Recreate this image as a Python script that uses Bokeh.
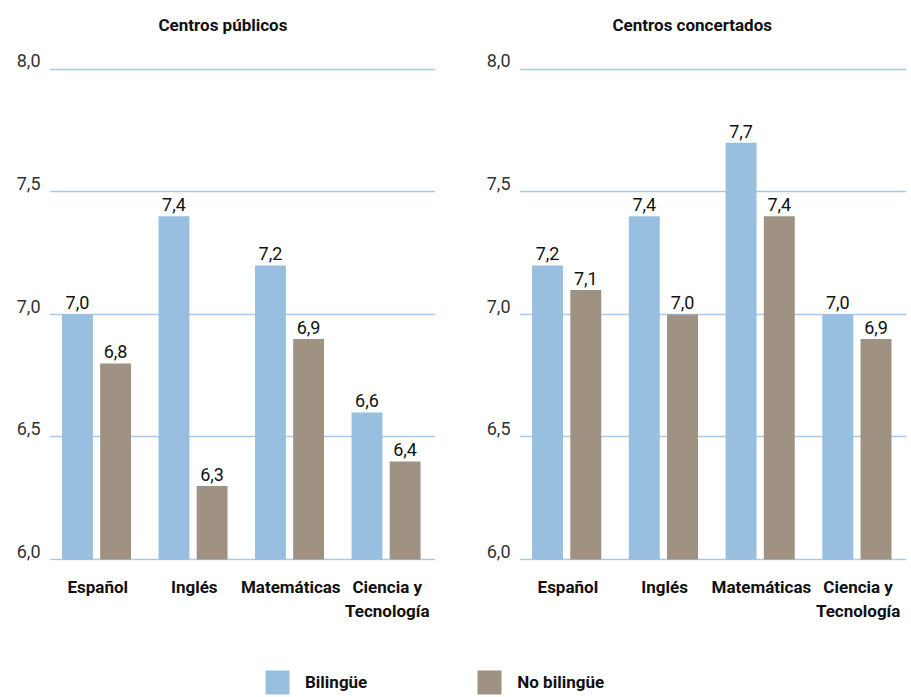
from bokeh.plotting import figure
from bokeh.models import (FactorRange, Range1d, FixedTicker, ColumnDataSource,
                          Legend, LegendItem, Title)
from bokeh.transform import dodge
from bokeh.layouts import row, column
from bokeh.embed import file_html
from bokeh.resources import INLINE
from bokeh.core.properties import value

# ---------------- data ----------------
categories = ["Español", "Inglés", "Matemáticas", "Ciencia y\nTecnología"]
publicos_bilingue = [7.0, 7.4, 7.2, 6.6]
publicos_no_bilingue = [6.8, 6.3, 6.9, 6.4]
concertados_bilingue = [7.2, 7.4, 7.7, 7.0]
concertados_no_bilingue = [7.1, 7.0, 7.4, 6.9]
y_ticks = [6.0, 6.5, 7.0, 7.5, 8.0]
y_tick_labels = ["6,0", "6,5", "7,0", "7,5", "8,0"]
series_names = ["Bilingüe", "No bilingüe"]
panel_titles = ["Centros públicos", "Centros concertados"]

# ---------------- style ----------------
BLUE = "#98bee0"
BROWN = "#a09282"
GRID = "#a9c9e8"
FONT = "Roboto"
TXT = "#111111"
LABEL_LIFT = 0.034  # raises the y tick labels so they sit above their grid line


def fmt(v):
    return f"{v:.1f}".replace(".", ",")


def make_panel(title, bil, nobil, width, bl, br, title_offset):
    p = figure(width=width, height=623, x_range=FactorRange(*categories),
               y_range=Range1d(5.996, 8.04), toolbar_location=None,
               output_backend="svg", min_border_left=bl, min_border_right=br,
               min_border_top=59, min_border_bottom=0,
               outline_line_color=None)
    p.x_range.range_padding = 0
    p.title.text = title
    p.title.align = "left"
    p.title.offset = title_offset
    p.title.text_font = FONT
    p.title.text_font_style = "bold"
    p.title.text_font_size = "17px"
    p.title.text_color = TXT
    p.title.standoff = 0
    # empty spacer between the frame and the title
    p.add_layout(Title(text=" ", text_font_size="1px", standoff=22), "above")

    p.xgrid.visible = False
    p.ygrid.ticker = FixedTicker(ticks=y_ticks)
    p.ygrid.grid_line_color = GRID
    p.ygrid.grid_line_width = 1.5

    ax = p.xaxis[0]
    ax.axis_line_color = None
    ax.major_tick_line_color = None
    ax.minor_tick_line_color = None
    ax.major_label_text_font = FONT
    ax.major_label_text_font_style = "bold"
    ax.major_label_text_font_size = "17px"
    ax.major_label_text_color = TXT
    ax.major_label_standoff = 10
    ax.major_label_orientation = "horizontal"

    lifted = [round(t + LABEL_LIFT, 3) for t in y_ticks]
    ay = p.yaxis[0]
    ay.ticker = FixedTicker(ticks=lifted)
    ay.major_label_overrides = {t: l for t, l in zip(lifted, y_tick_labels)}
    ay.axis_line_color = None
    ay.major_tick_line_color = None
    ay.minor_tick_line_color = None
    ay.major_label_standoff = 3
    ay.major_label_text_font = FONT
    ay.major_label_text_font_style = "normal"
    ay.major_label_text_font_size = "18px"
    ay.major_label_text_color = "#333333"

    src = ColumnDataSource(dict(
        cat=categories, b=bil, n=nobil,
        bl=[fmt(v) for v in bil], nl=[fmt(v) for v in nobil]))

    OFF_B, OFF_N = -0.21, 0.185
    p.vbar(x=dodge("cat", OFF_B, range=p.x_range), top="b", bottom=6.0,
           width=0.32, source=src, fill_color=BLUE, line_color=None)
    p.vbar(x=dodge("cat", OFF_N, range=p.x_range), top="n", bottom=6.0,
           width=0.32, source=src, fill_color=BROWN, line_color=None)

    for off, col, lab in ((OFF_B, "b", "bl"), (OFF_N, "n", "nl")):
        p.text(x=dodge("cat", off, range=p.x_range), y=col, text=lab, source=src,
               text_font=value(FONT), text_font_size=value("18px"),
               text_color=TXT, text_align="center", text_baseline="bottom",
               y_offset=-5)
    return p


p1 = make_panel(panel_titles[0], publicos_bilingue, publicos_no_bilingue, 468, 49, 33, 109)
p2 = make_panel(panel_titles[1], concertados_bilingue, concertados_no_bilingue, 443, 51, 5, 93)

lf = figure(width=911, height=74, x_axis_location=None, y_axis_location=None,
            toolbar_location=None, output_backend="svg", min_border=0,
            outline_line_color=None, x_range=Range1d(0, 1), y_range=Range1d(0, 1))
lf.grid.visible = False
r1 = lf.vbar(x=[5], top=[5], bottom=[4], width=1, fill_color=BLUE, line_color=None)
r2 = lf.vbar(x=[5], top=[5], bottom=[4], width=1, fill_color=BROWN, line_color=None)
legend = Legend(items=[LegendItem(label=series_names[0], renderers=[r1]),
                       LegendItem(label=series_names[1], renderers=[r2])],
                orientation="horizontal", location=(262, 0),
                glyph_width=30, glyph_height=30, spacing=107, label_standoff=13,
                padding=0, margin=0, border_line_color=None,
                background_fill_alpha=0, label_text_font=FONT,
                label_text_font_style="bold", label_text_font_size="17px",
                label_text_color=TXT)
lf.add_layout(legend)

layout = column(row(p1, p2), lf)
open("out.html", "w").write(file_html(layout, INLINE))
